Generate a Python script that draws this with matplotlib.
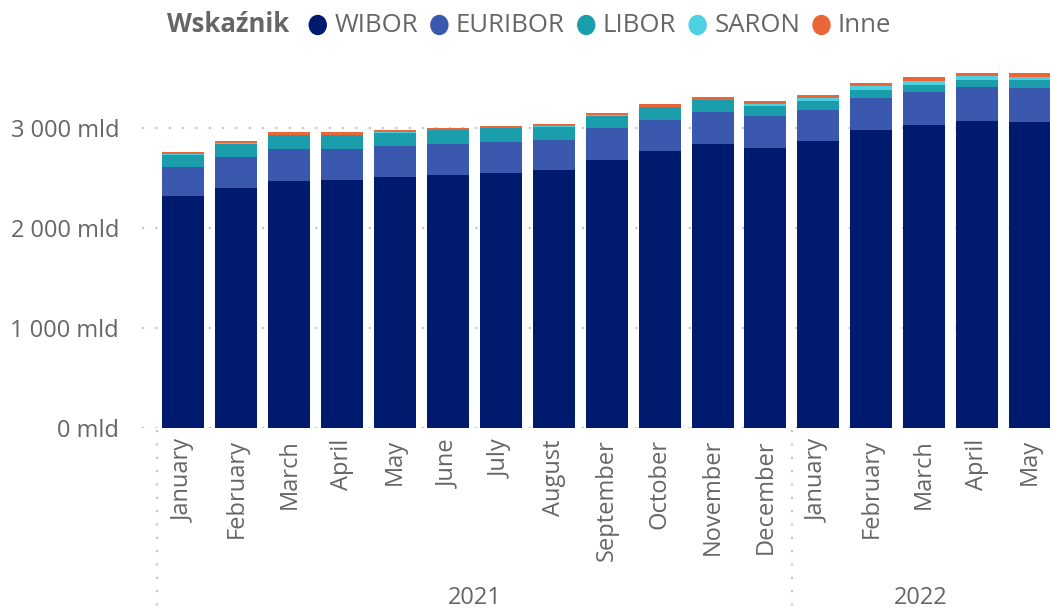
import matplotlib
matplotlib.use("Agg")
import matplotlib.pyplot as plt
import matplotlib.transforms as mtransforms

plt.rcParams['font.family'] = ['Open Sans', 'DejaVu Sans']

months = ["January", "February", "March", "April", "May", "June", "July", "August",
          "September", "October", "November", "December",
          "January", "February", "March", "April", "May"]
years = ["2021", "2022"]
year_counts = [12, 5]

wibor = [2320, 2400, 2470, 2480, 2510, 2530, 2550, 2580, 2680, 2770, 2840, 2800, 2870, 2980, 3030, 3070, 3060]
euribor = [290, 310, 320, 310, 310, 310, 310, 300, 320, 310, 320, 320, 310, 320, 330, 340, 340]
libor = [120, 130, 140, 140, 135, 140, 140, 130, 120, 130, 120, 100, 90, 80, 70, 70, 80]
saron = [10, 10, 3, 3, 10, 3, 3, 10, 10, 3, 3, 20, 30, 40, 40, 40, 30]
inne = [20, 20, 30, 30, 15, 20, 20, 20, 20, 30, 30, 30, 35, 30, 40, 30, 40]

series_names = ["WIBOR", "EURIBOR", "LIBOR", "SARON", "Inne"]
series_vals = [wibor, euribor, libor, saron, inne]
colors = ["#001A6E", "#3A58AE", "#1A9EAC", "#4DD0E1", "#EB6637"]
yticks = [0, 1000, 2000, 3000]

TXT = "#666666"
GRID = "#C8C8C8"

W, H = 1050, 610
fig = plt.figure(figsize=(W / 100, H / 100), dpi=100)
ax_l, ax_r, ax_b, ax_t = 142, 1050, 428, 60
ax = fig.add_axes([ax_l / W, 1 - ax_b / H, (ax_r - ax_l) / W, (ax_b - ax_t) / H])

x = list(range(len(months)))
bottom = [0] * len(months)
for name, vals, col in zip(series_names, series_vals, colors):
    ax.bar(x, vals, bottom=bottom, width=0.794, color=col, linewidth=0, zorder=2)
    bottom = [b + v for b, v in zip(bottom, vals)]

ax.set_xlim(-0.784, 16.378)
ax.set_ylim(0, 3680)
for s in ax.spines.values():
    s.set_visible(False)

ax.set_yticks(yticks)
ax.set_yticklabels([("{:,}".format(v)).replace(",", " ") + " mld" for v in yticks])
for v in yticks:
    ax.axhline(v, color=GRID, linestyle=(0, (1, 5)), linewidth=1.6, zorder=1)
ax.tick_params(axis='y', length=0, pad=16.5, labelsize=17, labelcolor=TXT)

ax.set_xticks(x)
ax.set_xticklabels(months, rotation=90, va='top', ha='center')
ax.tick_params(axis='x', length=0, pad=8, labelsize=17, labelcolor=TXT)

# hierarchy separators and year labels
trans = mtransforms.blended_transform_factory(ax.transData, ax.transAxes)
hpx = ax_b - ax_t
y0 = -(430 - ax_b) / hpx
y1 = -(606 - ax_b) / hpx
bounds = [-0.5]
for c in year_counts:
    bounds.append(bounds[-1] + c)
for b in bounds[:-1]:
    ax.plot([b, b], [y0, y1], transform=trans, color=GRID, linestyle=(0, (1, 5)),
            linewidth=1.6, clip_on=False)
xmax = ax.get_xlim()[1]
ylab = -(598 - ax_b) / hpx
for i, yr in enumerate(years):
    left = bounds[i]
    right = min(bounds[i + 1], xmax)
    ax.text((left + right) / 2, ylab, yr, transform=trans, ha='center', va='center',
            fontsize=17, color=TXT)

# legend (laid out sequentially in pixels)
renderer = fig.canvas.get_renderer()
ly = 1 - 25 / H
title = fig.text(167 / W, ly, "Wskaźnik", fontsize=18.5, fontweight='bold', color=TXT,
                 ha='left', va='center')
cur = title.get_window_extent(renderer).x1 + 20
for name, col in zip(series_names, colors):
    fig.patches.append(matplotlib.patches.Ellipse(((cur + 8.5) / W, ly), 17 / W, 19 / H,
                                                  transform=fig.transFigure,
                                                  color=col))
    t = fig.text((cur + 25) / W, ly, name, fontsize=18.5, color=TXT, ha='left', va='center')
    cur = t.get_window_extent(renderer).x1 + 13

fig.savefig("out.png", dpi=100)
